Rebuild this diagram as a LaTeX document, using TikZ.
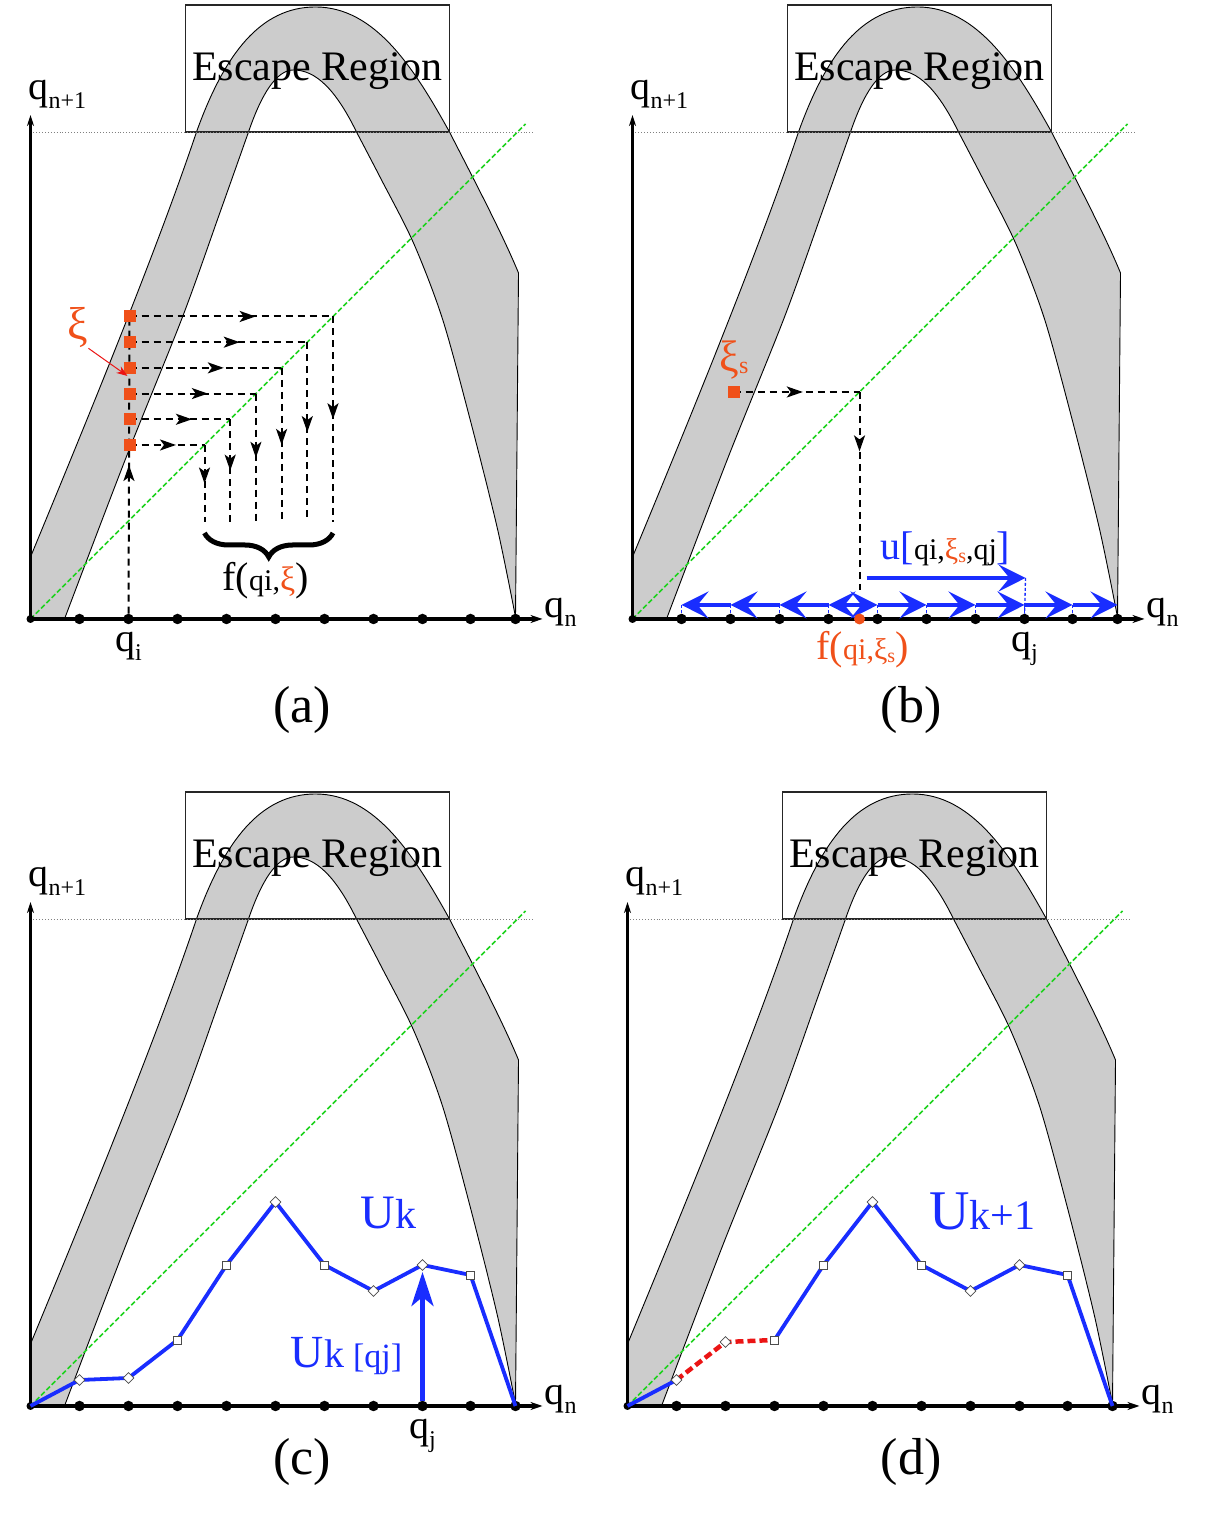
\documentclass[tikz,border=0pt]{standalone}
\usepackage{fontspec}
\setmainfont{Liberation Serif}
\usetikzlibrary{arrows.meta,positioning,shapes.geometric,decorations.markings,decorations.pathreplacing}

\definecolor{bandgrey}{RGB}{204,204,204}
\definecolor{xiorange}{RGB}{240,80,25}
\definecolor{diaggreen}{RGB}{30,210,30}
\definecolor{ublue}{RGB}{25,45,255}
\definecolor{newred}{RGB}{235,20,20}

\newcommand{\bigtxt}{\fontsize{40}{44}\selectfont}
\newcommand{\midtxt}{\fontsize{30}{34}\selectfont}
\newcommand{\lo}[1]{\raisebox{-0.22em}{\fontsize{24}{26}\selectfont #1}}
\newcommand{\slo}[1]{\raisebox{-0.1em}{\fontsize{20}{22}\selectfont #1}}

\newcommand{\drawmap}{%
  \filldraw[bandfill] (0,0) -- (0,62) .. controls (55,195) and (125,365) .. (166,487)
    .. controls (194,565) and (230,612) .. (285,612)
    .. controls (345,612) and (384,550) .. (419,487)
    .. controls (442,442) and (472,385) .. (488,346)
    -- plot[smooth] coordinates {(485,2) (467,90) (440,198) (412,300) (383,376) (350,441) (326,487)}
    .. controls (305,530) and (285,549) .. (263,549)
    .. controls (246,549) and (231,525) .. (218,487)
    -- plot[smooth] coordinates {(218,487) (190,408) (152,302) (95,160) (34,0)} -- cycle;
  \draw[escbox] (155,487) rectangle (419,614);
  \node[esctext] (esc) at (287,548) {Escape Region};
  \draw[esclevel] (0,487) -- (502,487);
  \draw[diagline] (0,0) -- (495,495);
  \coordinate (o) at (0,0);
  \coordinate (ytop) at (0,504);
  \coordinate (xend) at (512,0);
  \draw[vaxis] (o) -- (ytop);
  \draw[haxis] (o) -- (xend);
  \fill (o) circle (4pt);
  \foreach \x [count=\k] in {49,98,147,196,245,294,343,392,440,485}
    \node[gridpt] (d\k) at (\x,0) {};
  \node[axlbl, above right=6pt and -2pt of ytop] (ylab) {q\lo{n+1}};
  \node[axlbl, right=2pt of xend, yshift=7pt] (xlab) {q\lo{n}};
}

\begin{document}
\begin{tikzpicture}[x=1pt,y=1pt,
  bandfill/.style={fill=bandgrey, draw=black, line width=0.9pt},
  escbox/.style={draw=black!85, line width=1.1pt},
  esctext/.style={font=\fontsize{42}{46}\selectfont, inner sep=0pt},
  esclevel/.style={gray, dotted, line width=0.9pt},
  diagline/.style={diaggreen, dash pattern=on 5pt off 2.5pt, line width=1.6pt},
  haxis/.style={line width=3.2pt, -{Stealth[length=12pt,width=8pt]}},
  vaxis/.style={line width=2.4pt, -{Stealth[length=11pt,width=7pt]}},
  gridpt/.style={circle, fill=black, inner sep=0pt, minimum size=10.5pt},
  axlbl/.style={font=\bigtxt, inner sep=0pt},
  seed/.style={rectangle, fill=xiorange, inner sep=0pt, minimum size=12pt},
  tracing/.style={dash pattern=on 7pt off 5pt, line width=2pt},
  midarrow/.style={postaction={decorate}, decoration={markings, mark=at position #1 with {\arrow{Stealth[length=16pt,width=11pt,inset=4pt]}}}},
  fbrace/.style={decorate, decoration={brace, amplitude=24pt}, line width=5pt},
  xiarrow/.style={newred, line width=1pt, -{Stealth[length=11pt,width=8pt]}},
  hop/.style={ublue, line width=4.5pt, -{Stealth[length=27pt,width=27pt,inset=11pt]}},
  gridtick/.style={ublue, dash pattern=on 3pt off 2pt, line width=1.3pt},
  fdot/.style={circle, fill=xiorange, inner sep=0pt, minimum size=11pt},
  ucurve/.style={ublue, line width=3.8pt, line join=round},
  newpart/.style={newred, line width=4.5pt, dash pattern=on 8pt off 4pt},
  dmark/.style={diamond, draw=black!70, fill=white, inner sep=0pt, minimum size=11pt, line width=0.8pt},
  smark/.style={rectangle, draw=black!70, fill=white, inner sep=0pt, minimum size=8pt, line width=0.8pt},
  uparrow/.style={ublue, line width=4.5pt, -{Stealth[length=34pt,width=22pt,inset=9pt]}},
  panel/.style={font=\fontsize{52}{56}\selectfont, inner sep=0pt}
]
\useasboundingbox (0,0) rectangle (1207,1517);

% (a)
\begin{scope}[shift={(30.5,898)}, name prefix=a-]
  \drawmap
  \foreach \i in {0,...,5} {
    \pgfmathsetmacro{\yy}{174+25.7*\i}
    \coordinate (c\i) at (99,\yy);
    \coordinate (h\i) at (\yy,\yy);
    \coordinate (v\i) at (\yy,97);
  }
  \draw[tracing, midarrow=0.5] (d2) -- (c5);
  \foreach \i in {0,...,5} {
    \draw[tracing, midarrow=0.62] (c\i) -- (h\i);
    \draw[tracing, midarrow=0.5] (h\i) -- (v\i);
  }
  \foreach \i in {0,...,5}
    \node[seed] (s\i) at (c\i) {};
  \draw[fbrace] ([yshift=-11pt]v5) -- ([yshift=-11pt]v0);
  \node[inner sep=0pt] (fa) at (235,38) {{\bigtxt f(}{\midtxt qi,\textcolor{xiorange}{\fontsize{34}{36}\selectfont ξ}}{\bigtxt )}};
  \node[inner sep=0pt] (xi) at (47.5,291) {\textcolor{xiorange}{\fontsize{46}{48}\selectfont ξ}};
  \coordinate (xitgt) at (97,243);
  \draw[xiarrow] (xi.south east) -- (xitgt);
  \node[axlbl, below=8pt of d2] (qi) {q\lo{i}};
\end{scope}

% (b)
\begin{scope}[shift={(632.5,898)}, name prefix=b-]
  \drawmap
  \coordinate (c) at (101,227);
  \coordinate (h) at (227,227);
  \coordinate (v) at (227,29);
  \draw[tracing, midarrow=0.55] (c) -- (h);
  \draw[tracing, midarrow=0.3] (h) -- (v);
  \node[seed] (s) at (c) {};
  \node[inner sep=0pt] (xis) at (101.5,259) {\textcolor{xiorange}{{\fontsize{44}{46}\selectfont ξ}\lo{s}}};
  \coordinate (fb) at (227,14);
  \foreach \x [count=\k] in {49,98,147,196,245,294,343,392,440,485}
    \coordinate (b\k) at (\x,14);
  \foreach \k in {1,...,9}
    \draw[gridtick] (b\k) -- (d\k);
  \coordinate (ust) at (234,41);
  \coordinate (uend) at (393,41);
  \draw[gridtick] (uend) -- (d8);
  \foreach \p/\q in {fb/b4,b4/b3,b3/b2,b2/b1,fb/b5,b5/b6,b6/b7,b7/b8,b8/b9,b9/b10}
    \draw[hop] (\p) -- (\q);
  \draw[hop] (ust) -- (uend);
  \node[inner sep=0pt] (ulab) at (313,70) {\textcolor{ublue}{\bigtxt u[}{\midtxt qi,\textcolor{xiorange}{ξ\slo{s}},qj}\textcolor{ublue}{\bigtxt ]}};
  \node[fdot] (fq) at (227,0) {};
  \node[inner sep=0pt] (flab) at (230,-31) {\color{xiorange}{\bigtxt f(}{\midtxt qi,ξ\slo{s}}{\bigtxt )}};
  \node[axlbl, below=8pt of d8] (qj) {q\lo{j}};
\end{scope}

% (c)
\begin{scope}[shift={(30.5,111)}, name prefix=c-]
  \drawmap
  \foreach \x/\y [count=\k] in {49/26,98/28,147/66,196/141,245/204,294/141,343/115,392/141,440/131,485/0}
    \coordinate (p\k) at (\x,\y);
  \draw[ucurve] (o) -- (p1) -- (p2) -- (p3) -- (p4) -- (p5) -- (p6) -- (p7) -- (p8) -- (p9) -- (p10);
  \draw[uparrow] (d8) -- ([yshift=-7pt]p8);
  \foreach \k in {1,2,5,7,8}
    \node[dmark] (m\k) at (p\k) {};
  \foreach \k in {3,4,6,9}
    \node[smark] (m\k) at (p\k) {};
  \node[inner sep=0pt] (uk) at (358,193) {\textcolor{ublue}{{\fontsize{48}{50}\selectfont U}{\fontsize{42}{44}\selectfont k}}};
  \node[inner sep=0pt] (ukq) at (316,50) {\textcolor{ublue}{{\fontsize{46}{48}\selectfont U}{\fontsize{40}{42}\selectfont k}\hspace{9pt}{\fontsize{34}{38}\selectfont [qj]}}};
  \node[axlbl, below=8pt of d8] (qj) {q\lo{j}};
\end{scope}

% (d)
\begin{scope}[shift={(627.5,111)}, name prefix=d-]
  \drawmap
  \foreach \x/\y [count=\k] in {49/26,98/64,147/66,196/141,245/204,294/141,343/115,392/141,440/131,485/0}
    \coordinate (p\k) at (\x,\y);
  \draw[ucurve] (o) -- (p1);
  \draw[newpart] (p1) -- (p2) -- (p3);
  \draw[ucurve] (p3) -- (p4) -- (p5) -- (p6) -- (p7) -- (p8) -- (p9) -- (p10);
  \foreach \k in {1,2,5,7,8}
    \node[dmark] (m\k) at (p\k) {};
  \foreach \k in {3,4,6,9}
    \node[smark] (m\k) at (p\k) {};
  \node[inner sep=0pt] (uk1) at (355,195) {\textcolor{ublue}{{\fontsize{56}{58}\selectfont U}{\fontsize{42}{44}\selectfont k+1}}};
\end{scope}

\node[panel] (pa) at (302,807) {(a)};
\node[panel] (pb) at (911,807) {(b)};
\node[panel] (pc) at (302,55) {(c)};
\node[panel] (pd) at (911,55) {(d)};
\end{tikzpicture}
\end{document}
